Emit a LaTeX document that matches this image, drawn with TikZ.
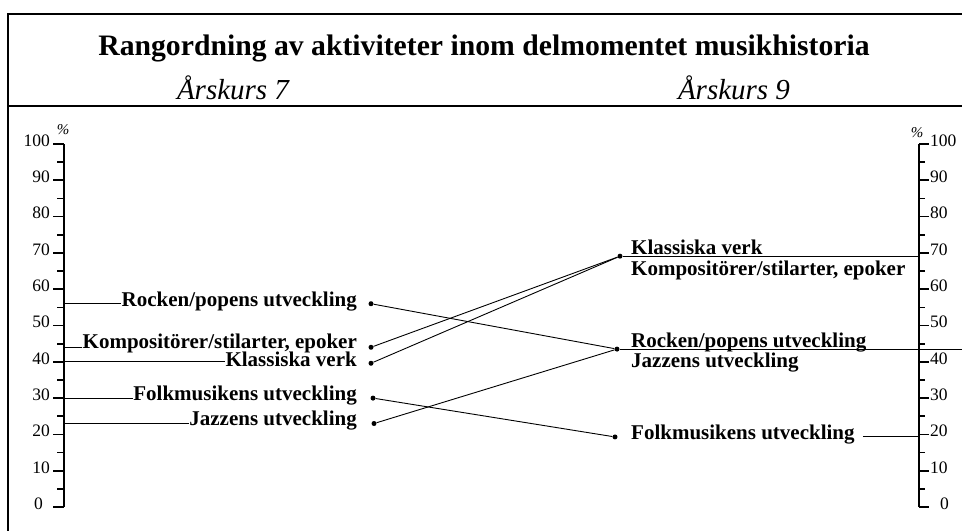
\documentclass[tikz,border=0pt]{standalone}
\usepackage{fontspec}
\setmainfont{Liberation Serif}
\begin{document}
\begin{tikzpicture}[x=1pt,y=-1pt,
  frameline/.style={line width=1.8pt},
  axisline/.style={line width=1.7pt},
  leader/.style={line width=0.9pt},
  link/.style={line width=0.9pt},
  num/.style={font=\fontsize{17.5}{20}\selectfont, inner sep=0pt},
  lab/.style={font=\fontsize{21}{24}\selectfont\bfseries, inner sep=0pt},
  pct/.style={font=\fontsize{15}{17}\selectfont\itshape, inner sep=0pt},
  dotmark/.style={circle, fill, inner sep=0pt, minimum size=5pt},
]
\useasboundingbox (0,0) rectangle (962,531);
% percent value -> vertical position
\def\yv#1{507-3.63*#1}

% frame and header
\draw[frameline] (962,14) -- (8,14) -- (8,531);
\draw[frameline] (8,106) -- (962,106);
\node[inner sep=0pt, font=\fontsize{29.7}{34}\selectfont\bfseries] (title) at (484,48)
  {Rangordning av aktiviteter inom delmomentet musikhistoria};
\node[inner sep=0pt, font=\fontsize{29}{32}\selectfont\itshape] (yr7) at (233,88) {Årskurs 7};
\node[inner sep=0pt, font=\fontsize{29}{32}\selectfont\itshape] (yr9) at (734,88) {Årskurs 9};

% left scale
\draw[axisline] (64,{\yv{100}}) -- (64,{\yv{0}});
\foreach \v in {0,10,...,100}
  \draw[axisline] (53,{\yv{\v}}) -- (64,{\yv{\v}});
\foreach \v in {5,15,...,95}
  \draw[axisline] (57,{\yv{\v}}) -- (64,{\yv{\v}});
\foreach \v in {10,20,...,100}
  \node[num, anchor=mid east] (ln\v) at (50,{\yv{\v}}) {\v};
\node[num, anchor=mid east] (ln0) at (43,{\yv{0}}) {0};
\node[pct] (pl) at (63,130) {\%};

% right scale
\draw[axisline] (919,{\yv{100}}) -- (919,{\yv{0}});
\foreach \v in {0,10,...,100}
  \draw[axisline] (919,{\yv{\v}}) -- (929,{\yv{\v}});
\foreach \v in {5,15,...,95}
  \draw[axisline] (919,{\yv{\v}}) -- (925,{\yv{\v}});
\foreach \v in {10,20,...,100}
  \node[num, anchor=mid west] (rn\v) at (930,{\yv{\v}}) {\v};
\node[num, anchor=mid west] (rn0) at (940,{\yv{0}}) {0};
\node[pct] (pr) at (917,133) {\%};

% points on the scales
\coordinate (aRock) at (64,{\yv{56}});
\coordinate (aKomp) at (64,{\yv{44}});
\coordinate (aKlas) at (64,{\yv{40}});
\coordinate (aFolk) at (64,{\yv{30}});
\coordinate (aJazz) at (64,{\yv{23}});
\coordinate (bKlas) at (919,{\yv{69.1}});
\coordinate (bRock) at (962,{\yv{43.5}});
\coordinate (bFolk) at (919,{\yv{19.3}});

% grade 7 labels
\node[lab, anchor=mid east] (Rock7) at (357,{\yv{56}}) {Rocken/popens utveckling};
\node[lab, anchor=mid east] (Komp7) at (357,{\yv{44.2}}) {Kompositörer/stilarter, epoker};
\node[lab, anchor=mid east] (Klas7) at (357,{\yv{39.4}}) {Klassiska verk};
\node[lab, anchor=mid east] (Folk7) at (357,{\yv{30}}) {Folkmusikens utveckling};
\node[lab, anchor=mid east] (Jazz7) at (357,{\yv{23}}) {Jazzens utveckling};

\draw[leader] (aRock) -- (aRock -| Rock7.west);
\draw[leader] (aKomp) -- (aKomp -| Komp7.west);
\draw[leader] (aKlas) -- (aKlas -| Klas7.west);
\draw[leader] (aFolk) -- (aFolk -| Folk7.west);
\draw[leader] (aJazz) -- (aJazz -| Jazz7.west);

% grade 7 dots
\node[dotmark] (dRock7) at (371,{\yv{56}}) {};
\node[dotmark] (dKomp7) at (371,{\yv{44}}) {};
\node[dotmark] (dKlas7) at (371,{\yv{39.6}}) {};
\node[dotmark] (dFolk7) at (373,{\yv{30}}) {};
\node[dotmark] (dJazz7) at (374,{\yv{23}}) {};

% grade 9 dots
\node[dotmark] (dKlas9) at (620,{\yv{69.1}}) {};
\node[dotmark] (dRock9) at (617,{\yv{43.5}}) {};
\node[dotmark] (dFolk9) at (615,{\yv{19.3}}) {};

% grade 9 labels
\node[lab, anchor=base west] (Klas9) at (631,{\yv{69.1}-1.5}) {Klassiska verk};
\node[lab, anchor=base west] (Komp9) at (631,{\yv{69.1}+19}) {Kompositörer/stilarter, epoker};
\node[lab, anchor=base west] (Rock9) at (631,{\yv{43.5}-1.5}) {Rocken/popens utveckling};
\node[lab, anchor=base west] (Jazz9) at (631,{\yv{43.5}+18.5}) {Jazzens utveckling};
\node[lab, anchor=mid west] (Folk9) at (631,{\yv{19.3}}) {Folkmusikens utveckling};

\draw[leader] (dKlas9) -- (bKlas);
\draw[leader] (dRock9) -- (bRock);
\draw[leader] ([xshift=8pt]Folk9.east |- bFolk) -- (bFolk);

% changes between the grades
\draw[link] (dRock7) -- (dRock9);
\draw[link] (dKomp7) -- (dKlas9);
\draw[link] (dKlas7) -- (dKlas9);
\draw[link] (dFolk7) -- (dFolk9);
\draw[link] (dJazz7) -- (dRock9);
\end{tikzpicture}
\end{document}
